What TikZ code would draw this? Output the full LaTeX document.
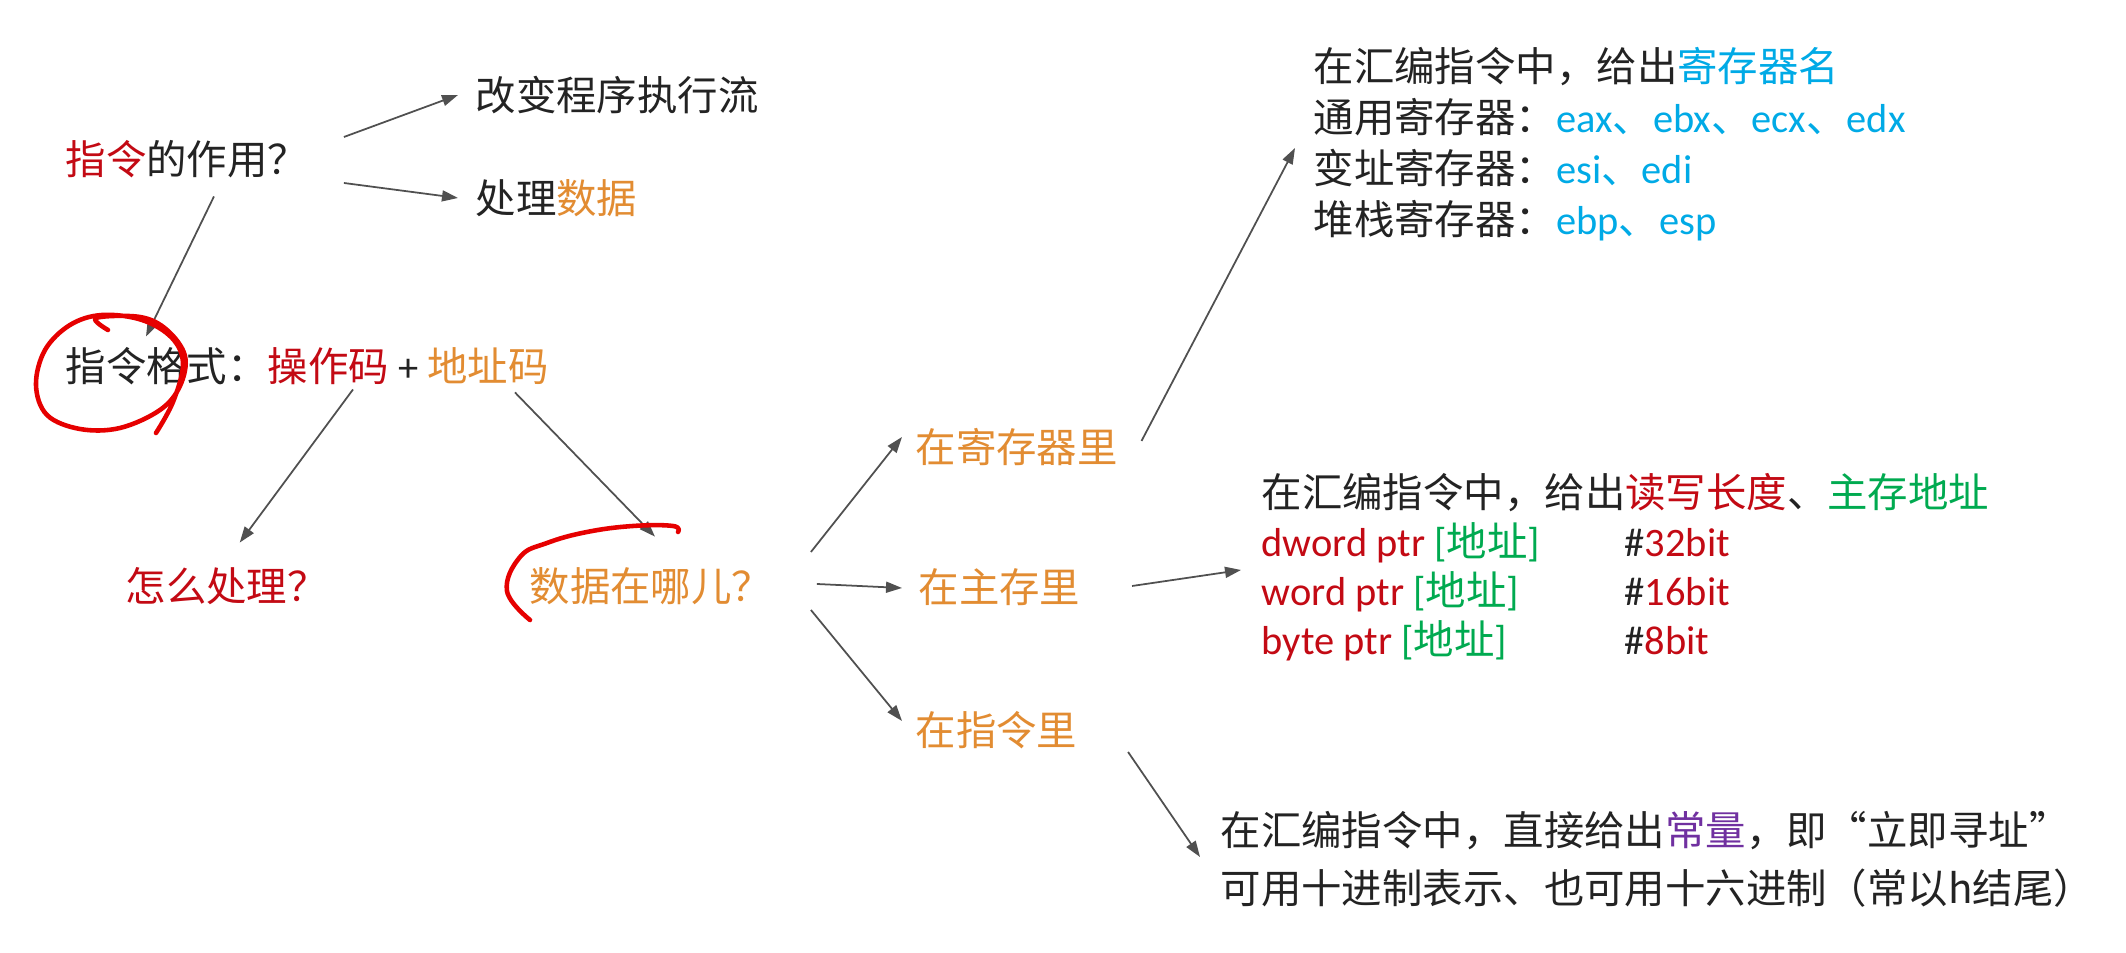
\documentclass[tikz,border=0pt]{standalone}
\usepackage{fontspec}
\setmainfont{Carlito}
\newfontfamily\cjk{Noto Sans CJK SC}
\usetikzlibrary{arrows.meta,positioning}
\definecolor{ink}{RGB}{35,35,35}
\definecolor{arrowgray}{RGB}{80,80,80}
\definecolor{redtxt}{RGB}{195,10,20}
\definecolor{orangetxt}{RGB}{226,140,50}
\definecolor{bluetxt}{RGB}{0,170,230}
\definecolor{greentxt}{RGB}{0,170,80}
\definecolor{purpletxt}{RGB}{112,48,160}
\definecolor{handred}{RGB}{230,0,0}
\newcommand{\lat}[1]{{\rmfamily #1}}

\begin{document}
\begin{tikzpicture}[x = .1mm, y = -.1mm,
    txt/.style = {anchor = west, inner sep = 0pt, text = ink, align = left,
                  font = \cjk\fontsize{11.5}{14.5}\selectfont},
    arr/.style = {-{Triangle[length = 1.6mm, width = 1.1mm]}, draw = arrowgray, line width = .5pt},
    handpen/.style = {draw = handred, line width = 1.3pt, line cap = round, line join = round}]
    \fill[white] (0,0) rectangle (2126,953);
    \useasboundingbox (0,0) rectangle (2126,953);

    % left part
    \node[txt] (role) at (65,159) {\textcolor{redtxt}{指令}的作用？};
    \node[txt] (flow) at (475,95) {改变程序执行流};
    \node[txt] (proc) at (475,198) {处理\textcolor{orangetxt}{数据}};
    \node[txt] (fmt) at (65,366) {指令格式：\textcolor{redtxt}{操作码}\lat{ + }\textcolor{orangetxt}{地址码}};
    \node[txt, text = redtxt] (how) at (125,586) {怎么处理？};
    \node[txt, text = orangetxt] (where) at (529,586) {数据在哪儿？};

    % where the data is
    \node[txt, text = orangetxt] (inreg) at (915,447) {在寄存器里};
    \node[txt, text = orangetxt] (inmem) at (918,587) {在主存里};
    \node[txt, text = orangetxt] (ininst) at (915,730) {在指令里};

    \node[txt] (regtxt) at (1313,144) {在汇编指令中，给出\textcolor{bluetxt}{寄存器名}\\
        通用寄存器：\textcolor{bluetxt}{\lat{eax}、\lat{ebx}、\lat{ecx}、\lat{edx}}\\
        变址寄存器：\textcolor{bluetxt}{\lat{esi}、\lat{edi}}\\
        堆栈寄存器：\textcolor{bluetxt}{\lat{ebp}、\lat{esp}}};
    \node[txt, font = \cjk\fontsize{11.5}{13.9}\selectfont] (memtxt) at (1261,567) {在汇编指令中，给出\textcolor{redtxt}{读写长度}、\textcolor{greentxt}{主存地址}\\
        \makebox[36.3mm][l]{\textcolor{redtxt}{\lat{dword ptr }}\textcolor{greentxt}{\lat{[}地址\lat{]}}}\lat{\#}\textcolor{redtxt}{\lat{32bit}}\\
        \makebox[36.3mm][l]{\textcolor{redtxt}{\lat{word ptr }}\textcolor{greentxt}{\lat{[}地址\lat{]}}}\lat{\#}\textcolor{redtxt}{\lat{16bit}}\\
        \makebox[36.3mm][l]{\textcolor{redtxt}{\lat{byte ptr }}\textcolor{greentxt}{\lat{[}地址\lat{]}}}\lat{\#}\textcolor{redtxt}{\lat{8bit}}};
    \node[txt, font = \cjk\fontsize{11.5}{16.5}\selectfont] (immtxt) at (1220,859) {在汇编指令中，直接给出\textcolor{purpletxt}{常量}，即“立即寻址”\\
        可用十进制表示、也可用十六进制（常以h结尾）};

    % arrows
    \draw[arr] ([shift = {(35,-22)}]role.east) -- ([shift = {(-17,0)}]flow.west);
    \draw[arr] ([shift = {(35,24)}]role.east) -- ([shift = {(-17,0)}]proc.west);
    \draw[arr] ([shift = {(27,18)}]role.south) -- ([shift = {(81,-10)}]fmt.north west);
    \draw[arr] ([shift = {(288,4)}]fmt.south west) -- ([shift = {(13,-24)}]how.north);
    \draw[arr] ([shift = {(450,7)}]fmt.south west) -- ([shift = {(4,-30)}]where.north);
    \draw[arr] ([shift = {(38,-34)}]where.east) -- ([shift = {(-13,-10)}]inreg.west);
    \draw[arr] ([shift = {(44,-2)}]where.east) -- ([shift = {(-16,1)}]inmem.west);
    \draw[arr] ([shift = {(38,24)}]where.east) -- ([shift = {(-13,-9)}]ininst.west);
    \draw[arr] ([shift = {(23,-6)}]inreg.east) -- ([shift = {(-18,4)}]regtxt.west);
    \draw[arr] ([shift = {(51,-1)}]inmem.east) -- ([shift = {(-20,3)}]memtxt.west);
    \draw[arr] ([shift = {(50,22)}]ininst.east) -- ([shift = {(-20,-2)}]immtxt.west);

    % hand marks
    \draw[handpen] plot[smooth, tension = .6] coordinates {(108,330) (96,318) (140,317) (167,330) (185,356) (180,386) (160,410) (120,428) (80,429) (47,415) (36,385) (45,350) (70,325) (102,315) (142,320) (172,338) (183,364) (173,402) (156,433)};
    \draw[handpen] plot[smooth, tension = .7] coordinates {(530,620) (507,591) (520,557) (547,543) (587,532) (633,526) (673,526) (678,532)};
\end{tikzpicture}
\end{document}
